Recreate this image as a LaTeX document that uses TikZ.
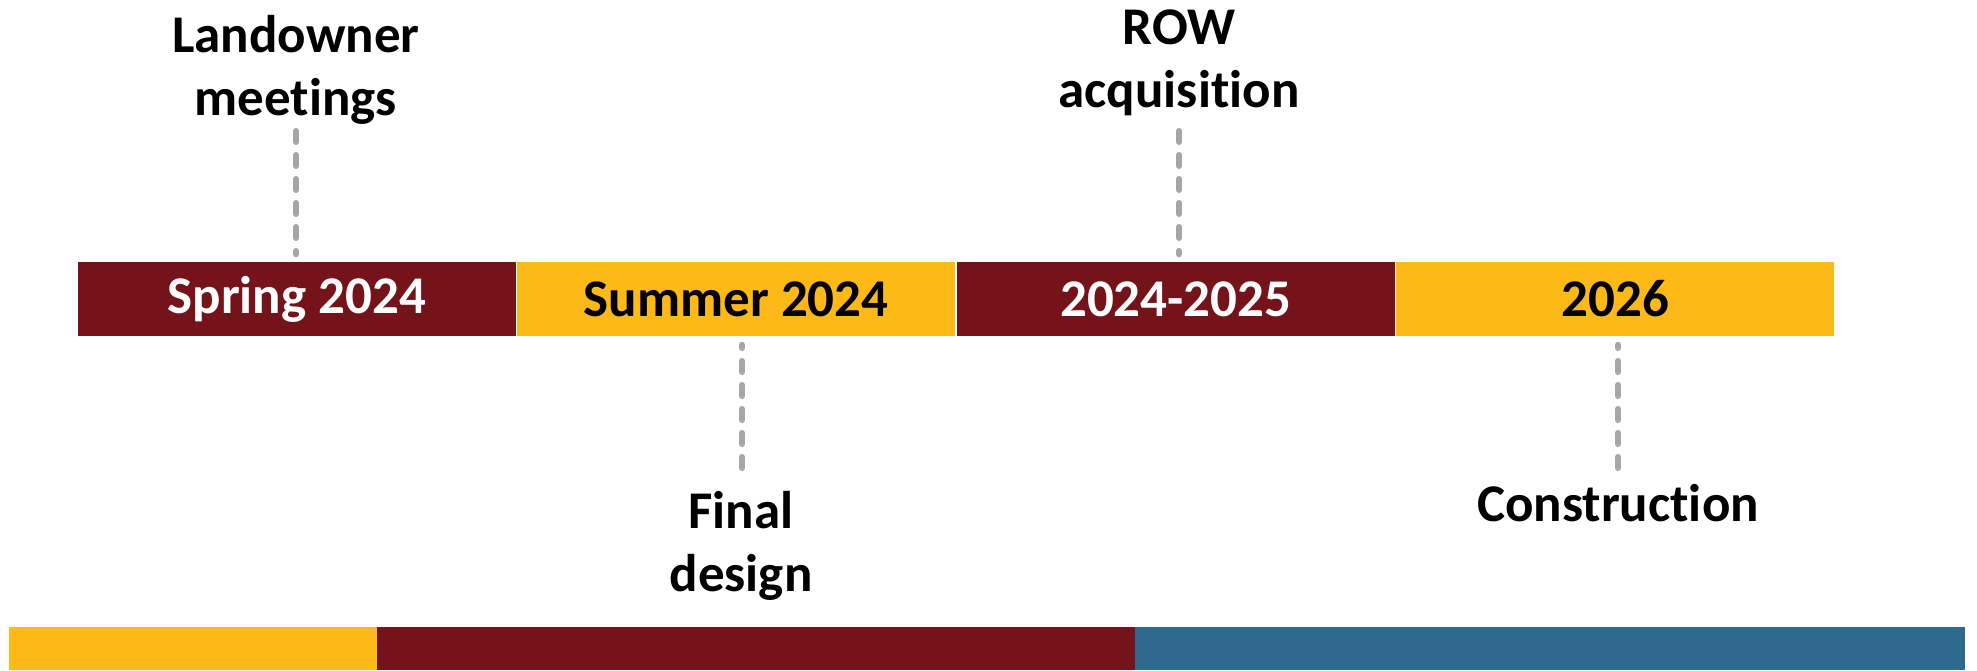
\documentclass[tikz,border=0pt]{standalone}
\usepackage{fontspec}
\setmainfont{Carlito}[Ligatures=NoCommon]
\definecolor{dred}{HTML}{74131A}
\definecolor{gold}{HTML}{FDB918}
\definecolor{steel}{HTML}{2E6A8D}
\definecolor{dashgray}{HTML}{A6A6A6}
\begin{document}
\begin{tikzpicture}[x=1pt,y=-1pt,
  period/.style={rectangle, draw=white, line width=1.5pt, minimum width=439.5pt, minimum height=76pt, inner sep=0pt,
     font=\fontsize{53}{60}\selectfont\bfseries},
  redbox/.style={period, fill=dred, text=white},
  goldbox/.style={period, fill=gold, text=black},
  label/.style={align=center, inner sep=0pt, font=\fontsize{53}{63}\selectfont\bfseries},
  dashline/.style={draw=dashgray, line width=6pt, line cap=round, dash pattern=on 11pt off 13pt}]
\useasboundingbox (0,0) rectangle (1977,670);
\fill[white] (0,0) rectangle (1977,670);
% periods
\node[redbox]  (b1) at (296.75,299) {Spring 2024};
\node[goldbox] (b2) at (736.25,299) {Summer 2024};
\node[redbox]  (b3) at (1175.75,299) {2024-2025};
\node[goldbox] (b4) at (1615.25,299) {2026};
% labels
\node[label] (l1) at (296,70) {Landowner\\meetings};
\node[label] (l2) at (741,546) {Final\\design};
\node[label] (l3) at (1179,63) {ROW\\acquisition};
\node[label] (l4) at (1618,503) {Construction};
% dashed connectors (drawn from label side to box)
\coordinate (c1) at (296,131);
\coordinate (c2) at (742,468);
\coordinate (c3) at (1179,131);
\coordinate (c4) at (1618,468);
\draw[dashline] (c1) -- ([yshift=6pt]b1.north -| c1);
\draw[dashline] (c2) -- ([yshift=-7pt]b2.south -| c2);
\draw[dashline] (c3) -- ([yshift=6pt]b3.north -| c3);
\draw[dashline] (c4) -- ([yshift=-7pt]b4.south -| c4);
% bottom band
\fill[gold] (9,627) rectangle (377,670);
\fill[dred] (377,627) rectangle (1135,670);
\fill[steel] (1135,627) rectangle (1965,670);
\end{tikzpicture}
\end{document}
